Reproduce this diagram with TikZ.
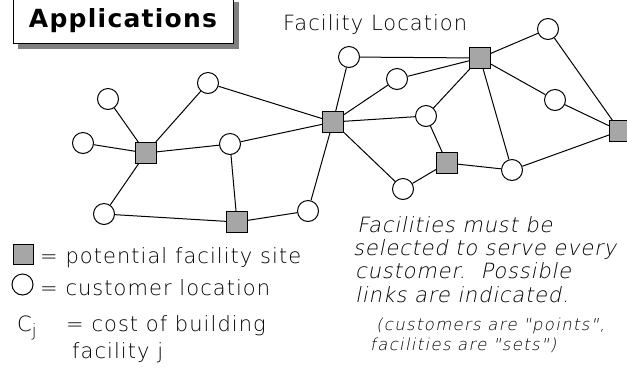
\documentclass[tikz,border=0pt]{standalone}
\usepackage{fontspec}
\newfontfamily\genfont[LetterSpace=5]{DejaVu Sans ExtraLight}
\newfontfamily\titlefont[LetterSpace=5]{DejaVu Sans}
\newfontfamily\notefont[LetterSpace=4, FakeSlant=0.2]{DejaVu Sans ExtraLight}
\newfontfamily\smallnotefont[LetterSpace=8, FakeSlant=0.2]{DejaVu Sans ExtraLight}
\begin{document}
\begin{tikzpicture}[x=1bp,y=-1bp,
  site/.style={draw, line width=1bp, fill=black!35, minimum size=21bp, inner sep=0pt},
  cust/.style={draw, line width=1bp, fill=white, circle, minimum size=21bp, inner sep=0pt},
  link/.style={line width=1bp},
  lbl/.style={font=\genfont\fontsize{21bp}{24bp}\selectfont, inner sep=0pt, anchor=base west},
  note/.style={font=\notefont\fontsize{21bp}{24bp}\selectfont, inner sep=0pt, anchor=base west},
  smallnote/.style={font=\smallnotefont\fontsize{16.5bp}{18bp}\selectfont, inner sep=0pt, anchor=base west}]
\clip (0,0) rectangle (627,391);

% title box with drop shadow
\fill[black!50] (18,2) rectangle (239,49);
\draw[line width=1bp, fill=white] (13,-3) rectangle (233,43);
\node[font=\titlefont\bfseries\fontsize{25bp}{28bp}\selectfont, inner sep=0pt, anchor=base] (title) at (123,27) {Applications};
\node[lbl] (subtitle) at (283,30) {Facility Location};

% customers
\node[cust] (c1) at (108,99) {};
\node[cust] (c2) at (208,83) {};
\node[cust] (c3) at (83,143) {};
\node[cust] (c4) at (230,144) {};
\node[cust] (c5) at (104,214) {};
\node[cust] (c6) at (308,211) {};
\node[cust] (c7) at (349,57) {};
\node[cust] (c8) at (397,79) {};
\node[cust] (c9) at (548,29) {};
\node[cust] (c10) at (426,116) {};
\node[cust] (c11) at (555,100) {};
\node[cust] (c12) at (512,170) {};
\node[cust] (c13) at (403,189) {};

% facility sites
\node[site] (s1) at (146,153) {};
\node[site] (s2) at (237,222) {};
\node[site] (s3) at (480,58) {};
\node[site] (s4) at (333,122) {};
\node[site] (s5) at (447,163) {};
\node[site] (s6) at (620,131) {};

% possible links
\draw[link] (c1) -- (s1);
\draw[link] (c3) -- (s1);
\draw[link] (c2) -- (s1);
\draw[link] (s1) -- (c4);
\draw[link] (s1) -- (c5);
\draw[link] (c5) -- (s2);
\draw[link] (c4) -- (s2);
\draw[link] (s2) -- (c6);
\draw[link] (c2) -- (s4);
\draw[link] (c4) -- (s4);
\draw[link] (c6) -- (s4);
\draw[link] (c7) -- (s4);
\draw[link] (c7) -- (s3);
\draw[link] (c8) -- (s4);
\draw[link] (c8) -- (s3);
\draw[link] (s4) -- (c10);
\draw[link] (s4) -- (c13);
\draw[link] (c10) -- (s3);
\draw[link] (c10) -- (s5);
\draw[link] (s5) -- (c13);
\draw[link] (s5) -- (c12);
\draw[link] (s3) -- (c9);
\draw[link] (s3) -- (c11);
\draw[link] (s3) -- (c12);
\draw[link] (c9) -- (s6);
\draw[link] (c11) -- (s6);
\draw[link] (c12) -- (s6);

% legend
\node[site, minimum size=20bp] (keysite) at (23,254.5) {};
\node[lbl] (keysitetext) at (40,263) {= potential facility site};
\node[cust] (keycust) at (22.5,284.5) {};
\node[lbl] (keycusttext) at (40,295) {= customer location};
\node[lbl] (costsym) at (17,331) {C\raisebox{-5bp}{\fontsize{17bp}{18bp}\selectfont j}};
\node[lbl] (costtext) at (66,331) {= cost of building};
\node[lbl] (costtext2) at (72,358) {facility j};

% explanatory note
\node[note] (n1) at (357,232) {Facilities must be};
\node[note] (n2) at (353,255) {selected to serve every};
\node[note] (n3) at (355,278) {customer.~~Possible};
\node[note] (n4) at (355,302) {links are indicated.};
\node[smallnote] (m1) at (376,330) {(customers are "points",};
\node[smallnote] (m2) at (370,350) {facilities are "sets")};
\end{tikzpicture}
\end{document}
